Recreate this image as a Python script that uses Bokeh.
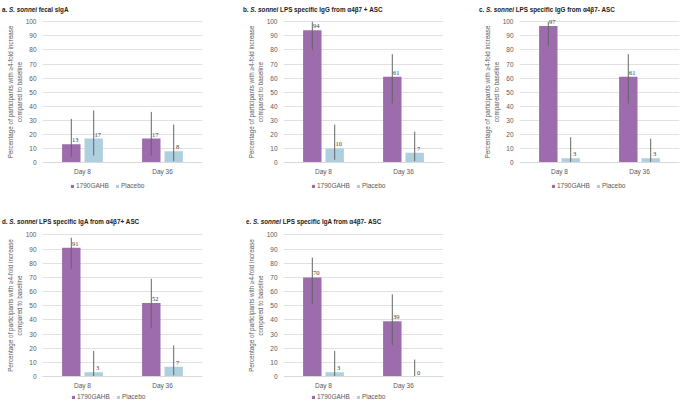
from bokeh.plotting import figure
from bokeh.models import (FactorRange, Range1d, ColumnDataSource, FixedTicker, Title,
                          LabelSet, Legend, LegendItem, Div)
from bokeh.transform import dodge
from bokeh.layouts import column, row
from bokeh.embed import file_html
from bokeh.resources import INLINE

# ---------------- data ----------------
days = ["Day 8", "Day 36"]
groups = ["1790GAHB", "Placebo"]
y_ticks = [0, 10, 20, 30, 40, 50, 60, 70, 80, 90, 100]

titles_prefix = ["a.", "b.", "c.", "d.", "e."]
titles_species = "S. sonnei"
titles_rest = ["fecal sIgA",
               "LPS specific IgG from \u03b14\u03b27 + ASC",
               "LPS specific IgG from \u03b14\u03b27- ASC",
               "LPS specific IgA from \u03b14\u03b27+ ASC",
               "LPS specific IgA from \u03b14\u03b27- ASC"]

a_vac, a_vac_lo, a_vac_hi = [13, 17], [4, 5], [31, 36]
a_pla, a_pla_lo, a_pla_hi = [17, 8], [5, 1], [37, 27]
b_vac, b_vac_lo, b_vac_hi = [94, 61], [80, 42], [100, 77]
b_pla, b_pla_lo, b_pla_hi = [10, 7], [2, 1], [27, 22]
c_vac, c_vac_lo, c_vac_hi = [97, 61], [83, 42], [100, 77]
c_pla, c_pla_lo, c_pla_hi = [3, 3], [0, 0], [18, 17]
d_vac, d_vac_lo, d_vac_hi = [91, 52], [76, 34], [98, 69]
d_pla, d_pla_lo, d_pla_hi = [3, 7], [0, 1], [18, 22]
e_vac, e_vac_lo, e_vac_hi = [70, 39], [51, 22], [84, 58]
e_pla, e_pla_lo, e_pla_hi = [3, 0], [0, 0], [18, 12]

ylabel_1 = "Percentage of participants with \u22654-fold increase"
ylabel_2 = "compared to baseline"

# ---------------- style ----------------
FONT = "Liberation Sans"
PURPLE = "#9c6cac"
BLUE = "#aed0de"
GREY_TXT = "#595959"
GRID = "#d9d9d9"
ERR = "#666666"
FS = "6.5px"
YL_FS = 6.3
# Arial regular advance widths (per 1000 em) used to centre the y label lines
AW = {'P': 667, 'e': 556, 'r': 333, 'c': 500, 'n': 556, 't': 278, 'a': 556, 'g': 556,
      ' ': 278, 'o': 556, 'f': 278, 'p': 556, 'i': 222, 's': 500, 'w': 722, 'h': 556,
      '\u2265': 549, '4': 556, '-': 333, 'l': 222, 'd': 556, 'm': 833, 'b': 556}


def text_len(s, size):
    return sum(AW.get(ch, 556) for ch in s) * size / 1000


def panel(idx, vac, vac_lo, vac_hi, pla, pla_lo, pla_hi,
          width, bl, br, y_lo, y_hi, frame_h, bb, div_h, div_pad_top, div_pad_left,
          leg_x, leg_y, label_center):
    p = figure(x_range=FactorRange(*days), y_range=Range1d(y_lo, y_hi),
               width=width, height=frame_h + bb, output_backend="svg",
               toolbar_location=None, min_border_left=bl, min_border_right=br,
               min_border_top=0, min_border_bottom=bb)
    p.outline_line_color = None
    p.background_fill_color = "white"
    p.border_fill_color = "white"

    src = ColumnDataSource(dict(day=days, vac=vac, vac_lo=vac_lo, vac_hi=vac_hi,
                                pla=pla, pla_lo=pla_lo, pla_hi=pla_hi,
                                vac_txt=[str(v) for v in vac],
                                pla_txt=[str(v) for v in pla]))
    xv = dodge("day", -0.14, range=p.x_range)
    xp = dodge("day", 0.14, range=p.x_range)
    r1 = p.vbar(x=xv, top="vac", width=0.23, source=src, fill_color=PURPLE, line_color=None)
    r2 = p.vbar(x=xp, top="pla", width=0.23, source=src, fill_color=BLUE, line_color=None)
    p.segment(x0=xv, y0="vac_lo", x1=xv, y1="vac_hi", source=src, line_color=ERR, line_width=1)
    p.segment(x0=xp, y0="pla_lo", x1=xp, y1="pla_hi", source=src, line_color=ERR, line_width=1)

    for xx, col in ((xv, "vac"), (xp, "pla")):
        p.add_layout(LabelSet(x=xx, y=col, text=col + "_txt", source=src,
                              x_offset=4, y_offset=2, text_align="center",
                              text_baseline="bottom", text_font=FONT,
                              text_font_size=FS, text_color="#404040"))

    # y axis
    p.yaxis.ticker = FixedTicker(ticks=y_ticks)
    p.yaxis.axis_line_color = None
    p.yaxis.major_tick_line_color = None
    p.yaxis.minor_tick_line_color = None
    p.yaxis.major_tick_out = 0
    p.yaxis.major_tick_in = 0
    p.yaxis.minor_tick_out = 0
    p.yaxis.major_label_text_font = FONT
    p.yaxis.major_label_text_font_size = FS
    p.yaxis.major_label_text_color = GREY_TXT
    p.yaxis.major_label_standoff = 6

    # y label: two centred lines (closest to axis first)
    for line in (ylabel_2, ylabel_1):
        off = label_center - text_len(line, YL_FS) / 2
        p.add_layout(Title(text=line, align="left", offset=off, standoff=0,
                           text_font=FONT, text_font_size=f"{YL_FS}px",
                           text_font_style="normal", text_color=GREY_TXT), "left")

    # x axis drawn at y = 0
    p.xaxis.fixed_location = 0
    p.xaxis.axis_line_color = GRID
    p.xaxis.major_tick_line_color = None
    p.xaxis.minor_tick_line_color = None
    p.xaxis.major_tick_out = 0
    p.xaxis.major_tick_in = 0
    p.xaxis.major_label_text_font = FONT
    p.xaxis.major_label_text_font_size = FS
    p.xaxis.major_label_text_color = GREY_TXT
    p.xaxis.major_label_standoff = 5

    p.xgrid.grid_line_color = None
    p.ygrid.grid_line_color = GRID
    p.ygrid.grid_line_width = 0.8

    legend = Legend(items=[LegendItem(label=groups[0], renderers=[r1]),
                           LegendItem(label=groups[1], renderers=[r2])],
                    orientation="horizontal", location=(leg_x, leg_y),
                    glyph_width=4, glyph_height=4, label_standoff=2,
                    spacing=6, padding=0, margin=0, border_line_color=None,
                    background_fill_alpha=0, label_text_font=FONT,
                    label_text_font_size=FS, label_text_color=GREY_TXT)
    p.add_layout(legend)

    html = ('<div style="padding-top:%dpx;padding-left:%dpx;white-space:nowrap;'
            'font-family:\'Liberation Sans\';font-size:6.3px;font-weight:bold;'
            'line-height:8px;color:#1a1a1a;margin:0">%s <i>%s</i> %s</div>'
            % (div_pad_top, div_pad_left, titles_prefix[idx], titles_species, titles_rest[idx]))
    div = Div(text=html, width=width, height=div_h, margin=(0, 0, 0, 0))
    return column(div, p, spacing=0)


# row 1: 0 at y=162, 100 at y=21 ; row 2: 0 at 376, 100 at 234
R1 = dict(y_lo=-22, y_hi=104.5, frame_h=178, bb=1, div_h=15, div_pad_top=6,
          leg_y=4, label_center=101.5)
R2 = dict(y_lo=-17.6, y_hi=104.5, frame_h=173, bb=0, div_h=34, div_pad_top=24,
          leg_y=1, label_center=96)

pa = panel(0, a_vac, a_vac_lo, a_vac_hi, a_pla, a_pla_lo, a_pla_hi,
           240, 42, 38, div_pad_left=2, leg_x=28, **R1)
pb = panel(1, b_vac, b_vac_lo, b_vac_hi, b_pla, b_pla_lo, b_pla_hi,
           235, 43, 32, div_pad_left=3, leg_x=28, **R1)
pc = panel(2, c_vac, c_vac_lo, c_vac_hi, c_pla, c_pla_lo, c_pla_hi,
           206, 44, 2, div_pad_left=4, leg_x=32, **R1)
pd = panel(3, d_vac, d_vac_lo, d_vac_hi, d_pla, d_pla_lo, d_pla_hi,
           240, 42, 38, div_pad_left=2, leg_x=29, **R2)
pe = panel(4, e_vac, e_vac_lo, e_vac_hi, e_pla, e_pla_lo, e_pla_hi,
           235, 43, 32, div_pad_left=6, leg_x=28, **R2)

layout = column(row(pa, pb, pc, spacing=0), row(pd, pe, spacing=0), spacing=0)
open("out.html", "w").write(file_html(layout, INLINE))
